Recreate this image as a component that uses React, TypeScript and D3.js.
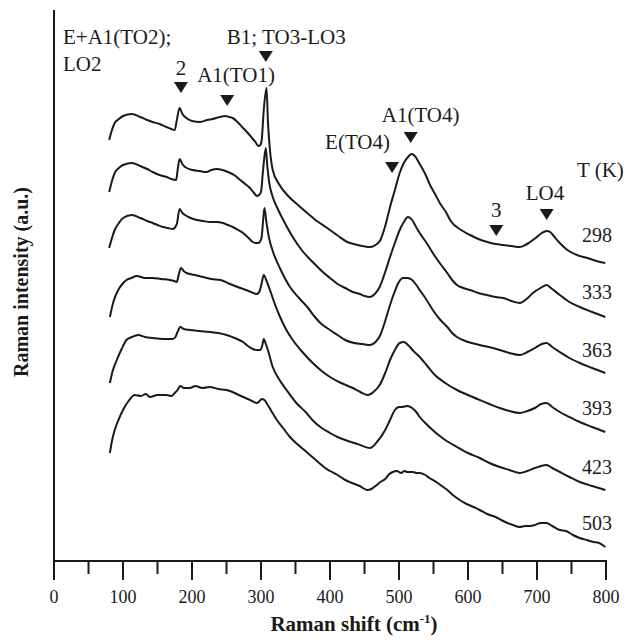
import React from 'react';
import * as d3 from 'd3';

// Raman shift (cm-1) vs stacked intensity (a.u.) for each temperature
const temps = ['298', '333', '363', '393', '423', '503'];

const s298: [number, number][] = [[80,421],[84,431],[88,438],[94,442],[100,445],[113,447],[125,444],[135,441],[143,439],[153,437],[163,434],[170,432],[175,431],[178,441],[182,453],[186,447],[190,444],[200,440],[212,439],[222,441],[230,442],[240,444],[248,445],[254,444],[259,443],[266,439],[274,433],[281,428],[287,423],[292,419],[296,415],[299,416],[301,421],[304,451],[308,473],[310,440],[313,411],[317,391],[326,377],[338,366],[352,357],[367,348],[381,340],[396,333],[410,326],[425,319],[440,316],[458,314],[466,316],[473,321],[480,335],[487,354],[494,371],[501,388],[507,398],[513,404],[518,407],[523,405],[530,397],[538,387],[545,376],[553,366],[560,357],[568,349],[575,340],[590,331],[603,326],[615,322],[628,319],[640,317],[651,316],[663,315],[675,314],[683,316],[690,319],[698,323],[707,328],[714,330],[719,329],[723,326],[733,318],[744,311],[758,306],[773,303],[786,300],[799,298]];
const s333: [number, number][] = [[80,369],[84,380],[88,388],[94,393],[100,396],[113,398],[125,395],[135,392],[143,389],[153,386],[163,384],[170,382],[177,381],[179,390],[182,402],[186,397],[190,394],[201,391],[211,390],[221,389],[228,391],[236,392],[244,391],[252,389],[261,386],[270,381],[277,377],[284,373],[290,368],[294,365],[297,366],[300,369],[303,391],[307,413],[309,396],[312,378],[317,364],[323,354],[333,340],[346,324],[360,310],[375,299],[388,290],[400,283],[411,277],[422,273],[433,269],[443,267],[450,265],[458,264],[465,267],[472,274],[480,289],[487,304],[494,318],[501,331],[507,339],[513,344],[519,341],[524,335],[530,328],[540,318],[549,308],[560,297],[570,288],[577,281],[584,276],[593,273],[603,271],[615,268],[627,266],[640,264],[651,263],[663,260],[675,258],[685,262],[694,268],[705,273],[714,276],[722,272],[733,266],[747,259],[762,254],[780,249],[799,244]];
const s363: [number, number][] = [[80,313],[84,323],[88,331],[94,338],[100,343],[113,346],[125,343],[135,340],[143,338],[150,336],[158,334],[165,333],[172,332],[178,337],[182,352],[186,348],[190,346],[198,343],[207,341],[216,340],[226,339],[235,339],[245,338],[252,336],[259,334],[267,331],[274,328],[282,323],[288,319],[292,318],[296,318],[299,320],[301,324],[303,340],[305,353],[308,338],[312,322],[317,310],[328,292],[342,274],[355,263],[367,254],[377,245],[386,238],[400,231],[411,226],[422,221],[435,218],[447,217],[458,216],[466,219],[473,226],[480,240],[487,256],[493,268],[499,278],[506,283],[512,283],[519,281],[524,277],[530,271],[540,261],[549,251],[560,241],[570,234],[577,228],[584,224],[600,219],[617,216],[630,214],[646,211],[660,208],[675,206],[686,209],[697,213],[707,217],[714,218],[722,214],[733,209],[747,203],[762,198],[780,193],[799,188]];
const s393: [number, number][] = [[81,244],[86,259],[93,271],[99,277],[105,281],[112,283],[120,285],[132,283],[143,283],[155,282],[168,281],[174,280],[178,279],[181,287],[184,293],[188,290],[192,288],[204,286],[216,284],[228,282],[241,281],[255,277],[270,273],[282,270],[294,267],[298,270],[301,278],[304,286],[308,280],[313,271],[320,257],[327,245],[336,232],[346,221],[360,209],[375,198],[388,190],[400,184],[416,178],[433,173],[444,169],[455,166],[463,169],[472,176],[480,188],[487,201],[494,211],[501,218],[507,219],[513,216],[521,210],[530,204],[541,195],[552,186],[567,178],[584,171],[600,166],[617,161],[631,157],[646,153],[660,150],[675,148],[686,150],[697,153],[706,157],[714,158],[722,154],[733,149],[747,144],[762,139],[780,134],[799,129]];
const s423: [number, number][] = [[81,178],[85,190],[91,201],[98,212],[105,221],[113,224],[122,226],[132,224],[143,223],[157,222],[172,222],[176,224],[179,229],[183,234],[188,232],[197,231],[211,230],[226,229],[238,228],[250,226],[262,223],[274,219],[281,215],[288,212],[294,211],[299,211],[302,216],[304,222],[307,217],[310,211],[317,194],[326,182],[337,171],[350,159],[366,148],[376,140],[386,134],[400,128],[411,124],[422,121],[440,117],[458,113],[468,119],[480,131],[487,141],[494,151],[500,154],[504,154],[512,155],[519,153],[525,149],[530,144],[541,136],[552,129],[567,121],[584,114],[600,108],[617,103],[631,98],[646,94],[660,91],[675,88],[686,90],[697,93],[706,95],[714,96],[722,93],[733,89],[747,84],[762,79],[780,75],[799,71]];
const s503: [number, number][] = [[81,108],[84,120],[88,131],[94,142],[100,151],[108,160],[117,166],[126,165],[133,167],[139,164],[150,166],[163,166],[170,165],[175,168],[179,171],[183,175],[188,173],[197,173],[205,175],[215,173],[226,174],[238,172],[250,171],[262,168],[274,164],[284,161],[294,158],[298,160],[301,162],[305,161],[308,158],[315,150],[323,141],[332,133],[342,124],[354,116],[366,109],[376,103],[386,97],[393,93],[400,90],[411,86],[422,81],[432,78],[443,75],[454,71],[460,72],[466,75],[473,79],[480,82],[486,87],[491,89],[497,90],[503,88],[508,90],[512,89],[520,89],[526,88],[530,88],[538,86],[544,83],[549,81],[556,78],[562,75],[570,71],[578,66],[588,61],[598,57],[608,54],[617,51],[628,47],[640,44],[648,41],[657,38],[665,36],[675,34],[683,35],[690,35],[697,36],[705,38],[714,38],[722,35],[733,31],[742,30],[752,26],[762,23],[772,21],[782,19],[790,18],[799,14]];

const spectra = [s298, s333, s363, s393, s423, s503];

// Mode labels and their Raman shifts (cm-1)
const modeNames = ['2', 'A1(TO1)', 'B1; TO3-LO3', 'E(TO4)', 'A1(TO4)', '3', 'LO4'];
const modeShifts = [184, 251, 307, 490, 517, 641, 714];

const xTicks = [0, 100, 200, 300, 400, 500, 600, 700, 800];
const xMinorTicks = [50, 150, 250, 350, 450, 550, 650, 750];

export default function App() {
  const W = 628, H = 640;
  const x = d3.scaleLinear().domain([0, 800]).range([54, 606]);
  const y = d3.scaleLinear().domain([0, 551]).range([561, 10]);
  const line = d3.line<[number, number]>()
    .x(d => x(d[0]))
    .y(d => y(d[1]))
    .curve(d3.curveMonotoneX);

  const font = '"Liberation Serif", "Times New Roman", serif';
  const ink = '#1a1a1a';

  // layout for the mode markers (triangle tip y, label x-offset/anchor, label baseline)
  const markerTipY = [93, 106, 62, 173, 143, 236, 220];
  const labelLayout: { dx: number; y: number; anchor: string }[] = [
    { dx: 0, y: 75, anchor: 'middle' },
    { dx: -30, y: 82, anchor: 'start' },
    { dx: -39, y: 44, anchor: 'start' },
    { dx: -67, y: 149, anchor: 'start' },
    { dx: -29, y: 122, anchor: 'start' },
    { dx: 0, y: 217, anchor: 'middle' },
    { dx: -21, y: 200, anchor: 'start' },
  ];
  const labelBaselines = [242, 299, 357, 415, 474, 530];

  const tri = (cx: number, tip: number) => {
    const w = 7, h = 11;
    return `M${cx - w},${tip - h}L${cx + w},${tip - h}L${cx},${tip}Z`;
  };

  return (
    <svg width={W} height={H} style={{ position: 'absolute', left: 0, top: 0, background: '#fff' }}
      fontFamily={font}>
      <rect x={0} y={0} width={W} height={H} fill="#fff" />
      {/* axes */}
      <line x1={x(0)} x2={x(0)} y1={10} y2={y(0)} stroke={ink} strokeWidth={2} />
      <line x1={x(0) - 1} x2={x(800) + 1} y1={y(0)} y2={y(0)} stroke={ink} strokeWidth={2} />
      {xTicks.map(t => (
        <g key={'t' + t}>
          <line x1={x(t)} x2={x(t)} y1={y(0)} y2={y(0) + 19} stroke={ink} strokeWidth={2} />
          <text x={x(t)} y={603} textAnchor="middle" fontSize={18} fill={ink}>{t}</text>
        </g>
      ))}
      {xMinorTicks.map(t => (
        <line key={'m' + t} x1={x(t)} x2={x(t)} y1={y(0)} y2={y(0) + 13} stroke={ink} strokeWidth={2} />
      ))}
      <text x={354} y={631} textAnchor="middle" fontSize={21} fontWeight="bold" fill={ink}>
        Raman shift (cm<tspan dy={-8} fontSize={13}>-1</tspan><tspan dy={8}>)</tspan>
      </text>
      <text transform={`translate(28,282) rotate(-90)`} textAnchor="middle" fontSize={20} fontWeight="bold" fill={ink}>
        Raman intensity (a.u.)
      </text>

      {/* spectra */}
      {spectra.map((s, i) => (
        <path key={temps[i]} d={line(s) || ''} fill="none" stroke={ink} strokeWidth={2} strokeLinejoin="round" />
      ))}
      {temps.map((t, i) => (
        <text key={'l' + t} x={582} y={labelBaselines[i]} fontSize={20} fill={ink}>{t}</text>
      ))}
      <text x={577} y={177} fontSize={21} fill={ink}>T (K)</text>

      {/* mode markers */}
      {modeNames.map((n, i) => (
        <g key={n}>
          <path d={tri(x(modeShifts[i]), markerTipY[i])} fill={ink} />
          <text x={x(modeShifts[i]) + labelLayout[i].dx} y={labelLayout[i].y}
            textAnchor={labelLayout[i].anchor} fontSize={21} fill={ink}>{n}</text>
        </g>
      ))}
      <text x={63} y={44} fontSize={21} fill={ink}>E+A1(TO2);</text>
      <text x={63} y={71} fontSize={21} fill={ink}>LO2</text>
    </svg>
  );
}
